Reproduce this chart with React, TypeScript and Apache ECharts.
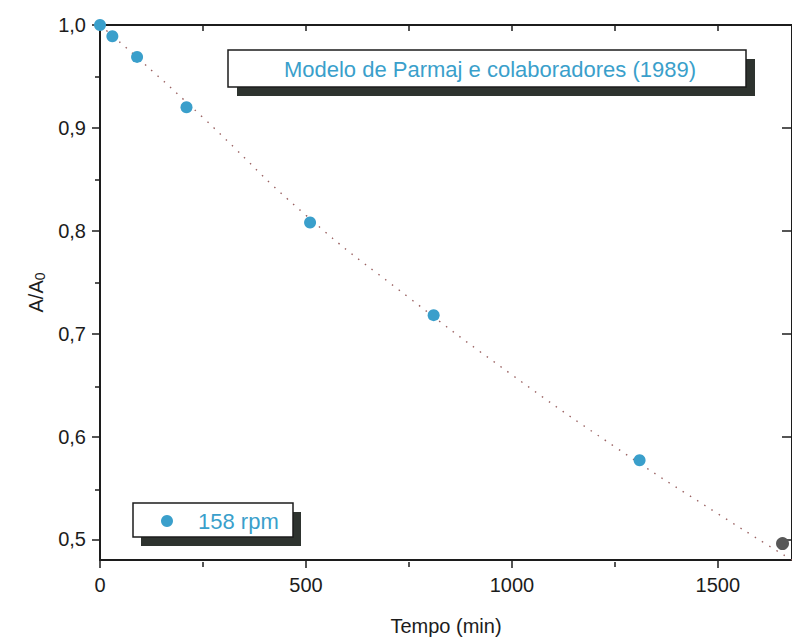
import React, { useEffect, useRef } from "react";
import * as echarts from "echarts";

// Data
const timeMin = [0, 30, 90, 210, 510, 810, 1310];
const ratio158 = [1.0, 0.989, 0.969, 0.92, 0.808, 0.718, 0.577];
const extraTime = [1657];
const extraRatio = [0.496];
const fitTime = [0, 100, 250, 500, 750, 1000, 1250, 1500, 1700];
const fitRatio = [1.0, 0.965, 0.91, 0.815, 0.735, 0.66, 0.59, 0.525, 0.475];

const xMajorTicks = [0, 500, 1000, 1500];
const xMinorTicks = [250, 750, 1250];
const yMajorTicks = [0.5, 0.6, 0.7, 0.8, 0.9, 1.0];
const yMinorTicks = [0.55, 0.65, 0.75, 0.85, 0.95];

const seriesName = "158 rpm";
const modelTitle = "Modelo de Parmaj e colaboradores (1989)";
const xName = "Tempo (min)";

const FONT = '"Liberation Sans", Arial, sans-serif';
const BLUE = "#3a9fcb";
const INK = "#1c1c1c";

export default function App() {
  const ref = useRef<HTMLDivElement>(null);
  useEffect(() => {
    if (!ref.current) return;
    const chart = echarts.init(ref.current, null, { renderer: "svg" });
    const gridBox = { left: 100, top: 25, width: 698, height: 537 };
    const xRange = { min: 0, max: 1680 };
    const yRange = { min: 0.48, max: 1.0 };
    chart.setOption({
      animation: false,
      backgroundColor: "#ffffff",
      grid: [
        { ...gridBox, containLabel: false },
        { ...gridBox, containLabel: false },
      ],
      xAxis: [
        {
          type: "value",
          gridIndex: 0,
          position: "bottom",
          ...xRange,
          axisLine: { show: true, onZero: false, lineStyle: { color: INK, width: 2 } },
          axisTick: { show: true, customValues: xMajorTicks, length: 8, lineStyle: { color: INK, width: 1.5 } },
          axisLabel: {
            show: true,
            customValues: xMajorTicks,
            fontSize: 20,
            fontFamily: FONT,
            color: INK,
            margin: 15,
            formatter: (v: number) => String(Math.round(v)),
          },
          splitLine: { show: false },
          name: xName,
          nameLocation: "middle",
          nameGap: 56,
          nameTextStyle: { fontSize: 20, fontFamily: FONT, color: INK },
        },
        {
          type: "value",
          gridIndex: 0,
          position: "top",
          ...xRange,
          axisLine: { show: true, onZero: false, lineStyle: { color: INK, width: 2 } },
          axisTick: {
            show: true,
            inside: true,
            customValues: [...xMinorTicks, ...xMajorTicks.filter((v) => v > 0)],
            length: 6,
            lineStyle: { color: INK, width: 1.5 },
          },
          axisLabel: { show: false },
          splitLine: { show: false },
        },
        {
          type: "value",
          gridIndex: 1,
          position: "bottom",
          ...xRange,
          axisLine: { show: false },
          axisTick: { show: true, customValues: xMinorTicks, length: 5, lineStyle: { color: INK, width: 1.5 } },
          axisLabel: { show: false },
          splitLine: { show: false },
        },
      ],
      yAxis: [
        {
          type: "value",
          gridIndex: 0,
          position: "left",
          ...yRange,
          axisLine: { show: true, onZero: false, lineStyle: { color: INK, width: 2 } },
          axisTick: { show: true, customValues: yMajorTicks, length: 8, lineStyle: { color: INK, width: 1.5 } },
          axisLabel: {
            show: true,
            customValues: yMajorTicks,
            fontSize: 20,
            fontFamily: FONT,
            color: INK,
            margin: 14,
            formatter: (v: number) => v.toFixed(1).replace(".", ","),
          },
          splitLine: { show: false },
          name: "{a|A/A}{s|0}",
          nameLocation: "middle",
          nameGap: 50,
          nameTextStyle: {
            fontFamily: FONT,
            color: INK,
            rich: {
              a: { fontSize: 20, fontFamily: FONT, color: INK },
              s: { fontSize: 14, fontFamily: FONT, color: INK, padding: [8, 0, 0, 0] },
            },
          },
        },
        {
          type: "value",
          gridIndex: 0,
          position: "right",
          ...yRange,
          axisLine: { show: true, onZero: false, lineStyle: { color: INK, width: 2 } },
          axisTick: {
            show: true,
            inside: true,
            customValues: yMajorTicks,
            length: 10,
            lineStyle: { color: INK, width: 1.5 },
          },
          axisLabel: { show: false },
          splitLine: { show: false },
        },
        {
          type: "value",
          gridIndex: 1,
          position: "left",
          ...yRange,
          axisLine: { show: false },
          axisTick: { show: true, customValues: yMinorTicks, length: 5, lineStyle: { color: INK, width: 1.5 } },
          axisLabel: { show: false },
          splitLine: { show: false },
        },
      ],
      series: [
        {
          type: "line",
          name: "fit",
          xAxisIndex: 0,
          yAxisIndex: 0,
          data: fitTime.map((t, i) => [t, fitRatio[i]]),
          smooth: true,
          showSymbol: false,
          symbol: "none",
          clip: true,
          lineStyle: { color: "#9a6262", width: 1.4, type: [1.5, 7] },
          z: 2,
        },
        {
          type: "scatter",
          name: seriesName,
          xAxisIndex: 0,
          yAxisIndex: 0,
          data: timeMin.map((t, i) => [t, ratio158[i]]),
          symbol: "circle",
          symbolSize: 12,
          itemStyle: { color: BLUE, opacity: 1 },
          clip: false,
          z: 3,
        },
        {
          type: "scatter",
          name: "extra",
          xAxisIndex: 0,
          yAxisIndex: 0,
          data: extraTime.map((t, i) => [t, extraRatio[i]]),
          symbol: "circle",
          symbolSize: 13,
          itemStyle: { color: "#585858", opacity: 1 },
          clip: false,
          z: 3,
        },
      ],
      graphic: [
        // Model title box with hard shadow
        { type: "rect", shape: { x: 237, y: 59, width: 518, height: 37 }, style: { fill: "#2e332f" }, z: 10 },
        {
          type: "rect",
          shape: { x: 228, y: 50, width: 518, height: 37 },
          style: { fill: "#ffffff", stroke: INK, lineWidth: 1.5 },
          z: 11,
        },
        {
          type: "text",
          x: 490,
          y: 69,
          style: {
            text: modelTitle,
            fill: BLUE,
            fontSize: 22,
            fontFamily: FONT,
            textAlign: "center",
            textVerticalAlign: "middle",
          },
          z: 12,
        },
        // Legend box with hard shadow
        { type: "rect", shape: { x: 141, y: 512, width: 160, height: 34 }, style: { fill: "#2e332f" }, z: 10 },
        {
          type: "rect",
          shape: { x: 133, y: 503, width: 160, height: 34 },
          style: { fill: "#ffffff", stroke: INK, lineWidth: 1.5 },
          z: 11,
        },
        { type: "circle", shape: { cx: 167, cy: 521, r: 6 }, style: { fill: BLUE }, z: 12 },
        {
          type: "text",
          x: 198,
          y: 521,
          style: {
            text: seriesName,
            fill: BLUE,
            fontSize: 22,
            fontFamily: FONT,
            textAlign: "left",
            textVerticalAlign: "middle",
          },
          z: 12,
        },
      ],
    });
    return () => chart.dispose();
  }, []);
  return (
    <div
      ref={ref}
      style={{ position: "absolute", left: 0, top: 0, width: 792, height: 641, background: "#fff" }}
    />
  );
}
